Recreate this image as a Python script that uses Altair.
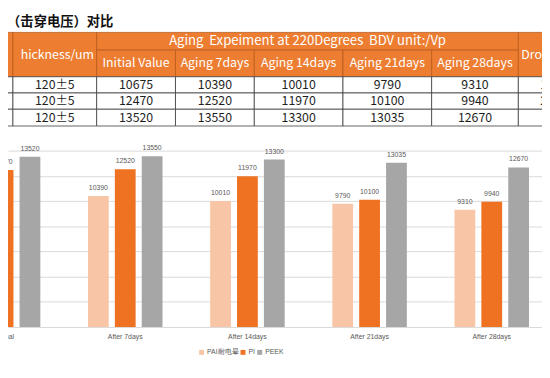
import altair as alt
import pandas as pd

# ---------------- data ----------------
title_text = "BDV（击穿电压）对比"
header_group = "Aging\u00a0 Expeiment at 220Degrees\u00a0 BDV unit:/Vp"
col_headers = ["m", "hickness/um", "Initial Value", "Aging 7days",
               "Aging 14days", "Aging 21days", "Aging 28days", "Drop Rate/%"]
first_col = ["0", "0", "0"]
thickness = ["120±5", "120±5", "120±5"]
series = ["PAI耐电晕", "PI", "PEEK"]
categories = ["Normal", "After 7days", "After 14days", "After 21days", "After 28days"]
pai_vals = [10675, 10390, 10010, 9790, 9310]
pi_vals = [12470, 12520, 11970, 10100, 9940]
peek_vals = [13520, 13550, 13300, 13035, 12670]
drop_rate = ["12.8%", "20.3%", "6.3%"]

# ---------------- layout (page pixels of the table) ----------------
COL_EDGES = [-70, 13, 98, 178, 258, 348, 438, 526, 606]
ROW_EDGES = [30, 48, 75, 91.5, 108, 125]
ORANGE = "#ED7D31"
COLORS = ["#F8C6A6", "#EE7222", "#A6A6A6"]
FS = 12.5

hdr = []
def cell(lst, x1, x2, y1, y2, text, fs=FS):
    lst.append({"x1": x1, "x2": x2, "y1": y1, "y2": y2,
                "xc": (x1 + x2) / 2, "yc": (y1 + y2) / 2, "text": text, "fs": fs})

cell(hdr, COL_EDGES[0], COL_EDGES[1], ROW_EDGES[0], ROW_EDGES[2], col_headers[0])
cell(hdr, COL_EDGES[1], COL_EDGES[2], ROW_EDGES[0], ROW_EDGES[2], col_headers[1])
cell(hdr, COL_EDGES[2], COL_EDGES[7], ROW_EDGES[0], ROW_EDGES[1], header_group, 13.3)
for c in range(2, 7):
    cell(hdr, COL_EDGES[c], COL_EDGES[c + 1], ROW_EDGES[1], ROW_EDGES[2], col_headers[c])
cell(hdr, COL_EDGES[7], COL_EDGES[8], ROW_EDGES[0], ROW_EDGES[2], col_headers[7])
hdr_df = pd.DataFrame(hdr)
hdr_df.loc[1, "xc"] = 58  # visible part of the clipped thickness header

vals_by_row = [pai_vals, pi_vals, peek_vals]
body = []
for r in range(3):
    row_texts = [first_col[r], thickness[r]] + [str(v) for v in vals_by_row[r]] + [drop_rate[r]]
    for c in range(8):
        cell(body, COL_EDGES[c], COL_EDGES[c + 1], ROW_EDGES[2 + r], ROW_EDGES[3 + r], row_texts[c])
body_df = pd.DataFrame(body)

title_df = pd.DataFrame([{"x": 115, "y": 19.5, "text": title_text}])

TX = alt.Scale(domain=[8, 550], nice=False, zero=False)
TY = alt.Scale(domain=[8, 378], reverse=True, nice=False, zero=False)

hdr_rect = alt.Chart(hdr_df).mark_rect(fill=ORANGE, stroke="#B85A1C", strokeWidth=0.8).encode(
    x=alt.X("x1:Q", scale=TX, axis=None), x2="x2:Q",
    y=alt.Y("y1:Q", scale=TY, axis=None), y2="y2:Q")
body_rect = alt.Chart(body_df).mark_rect(fill="white", stroke="#3C3C3C", strokeWidth=0.8).encode(
    x=alt.X("x1:Q", scale=TX, axis=None), x2="x2:Q",
    y=alt.Y("y1:Q", scale=TY, axis=None), y2="y2:Q")
hdr_text = alt.Chart(hdr_df).mark_text(color="white", font="Noto Sans CJK SC",
                                       baseline="middle").encode(
    x=alt.X("xc:Q", scale=TX, axis=None), y=alt.Y("yc:Q", scale=TY, axis=None), text="text:N",
    size=alt.Size("fs:Q", scale=None, legend=None))
body_text = alt.Chart(body_df).mark_text(color="#1E1E1E", fontSize=FS, font="Noto Sans CJK SC",
                                         baseline="middle").encode(
    x=alt.X("xc:Q", scale=TX, axis=None), y=alt.Y("yc:Q", scale=TY, axis=None), text="text:N")
title = alt.Chart(title_df).mark_text(color="#111111", fontSize=13.5, font="Noto Sans CJK SC",
                                      fontWeight="bold", align="right", baseline="middle").encode(
    x=alt.X("x:Q", scale=TX, axis=None), y=alt.Y("y:Q", scale=TY, axis=None), text="text:N")

table = alt.layer(hdr_rect, body_rect, hdr_text, body_text, title)

# ---------------- bar chart ----------------
rows = []
for s, (name, vals) in enumerate(zip(series, [pai_vals, pi_vals, peek_vals])):
    for g, (cat, v) in enumerate(zip(categories, vals)):
        rows.append({"g": g, "category": cat, "series": name, "s": s, "value": v})
bar_df = pd.DataFrame(rows)
cat_df = pd.DataFrame({"g": list(range(len(categories))), "category": categories})

STEP = 0.22
BW = 0.17
BX = alt.Scale(domain=[5 / 124, 547 / 124], nice=False, zero=False)
BY = alt.Scale(domain=[0, 14000], range=[321, 142], nice=False)

base = alt.Chart(bar_df).transform_calculate(
    xc=f"datum.g + (datum.s - 1) * {STEP}",
    xa=f"datum.g + (datum.s - 1) * {STEP} - {BW / 2}",
    xb=f"datum.g + (datum.s - 1) * {STEP} + {BW / 2}",
)
bars = base.mark_bar().encode(
    x=alt.X("xa:Q", scale=BX, axis=None), x2="xb:Q",
    y=alt.Y("value:Q", scale=BY,
            axis=alt.Axis(grid=True, labels=False, ticks=False, domain=False, title=None,
                          values=list(range(0, 14001, 2000)), gridColor="#D9D9D9", gridWidth=1)),
    y2=alt.datum(0),
    color=alt.Color("series:N", sort=series,
                    scale=alt.Scale(domain=series, range=COLORS),
                    legend=alt.Legend(orient="none", legendX=193, legendY=343, direction="horizontal",
                                      title=None, symbolType="square", symbolSize=25,
                                      symbolStrokeWidth=0, labelFontSize=7, labelColor="#595959",
                                      labelFont="Liberation Sans", columnPadding=1, labelOffset=2)),
)
vlabels = base.mark_text(fontSize=7, color="#595959", font="Liberation Sans", dy=-8,
                         baseline="middle").encode(
    x=alt.X("xc:Q", scale=BX, axis=None), y=alt.Y("value:Q", scale=BY), text="value:Q")
clabels = alt.Chart(cat_df).mark_text(fontSize=7, color="#595959", font="Liberation Sans", dy=10,
                                      baseline="middle").encode(
    x=alt.X("g:Q", scale=BX, axis=None), y=alt.datum(0, scale=BY), text="category:N")

barchart = alt.layer(bars, vlabels, clabels)

chart = alt.layer(table, barchart).resolve_scale(x="independent", y="independent").properties(
    width=542, height=370, autosize=alt.AutoSizeParams(type="none"), padding=0
).configure_view(stroke=None)

chart.save("out.html", embed_options={"renderer": "svg", "actions": False})
